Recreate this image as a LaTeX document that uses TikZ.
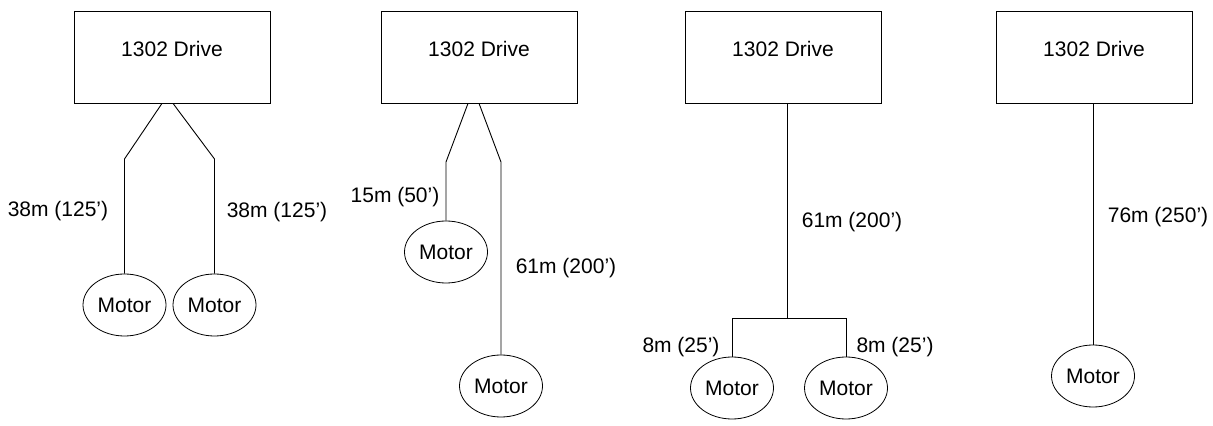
\documentclass[tikz,border=0pt]{standalone}
\usepackage{fontspec}
\setmainfont{Liberation Sans}
\usetikzlibrary{calc, shapes.geometric, positioning}

\tikzset{
    drivebox/.style={draw, rectangle, minimum width=98pt, minimum height=46pt,
        inner sep=0pt, text height=8pt, text depth=8.5pt},
    motor/.style={draw, ellipse, minimum width=41.5pt, minimum height=31pt, inner sep=0pt},
    lenlabel/.style={inner sep=0pt},
    cable/.style={line width=0.45pt}
}

\begin{document}
\begin{tikzpicture}[x=0.5pt, y=-0.5pt, font=\fontsize{10.5pt}{12pt}\selectfont]
    \useasboundingbox (0,0) rectangle (1213,426);

    % 1. Hai động cơ, mỗi nhánh 38m
    \node[drivebox] (d1) at (172,57) {1302 Drive};
    \node[motor] (m1a) at (124.5,305) {Motor};
    \node[motor] (m1b) at (214.5,305) {Motor};
    \coordinate (b1a) at (124.5,159);
    \coordinate (b1b) at (214.5,159);
    \draw[cable] ($(d1.south)+(-10,0)$) -- (b1a) -- (m1a.north);
    \draw[cable] ($(d1.south)+(1,0)$) -- (b1b) -- (m1b.north);
    \node[lenlabel] (l1a) at (58,211) {38m (125’)};
    \node[lenlabel] (l1b) at (277,212) {38m (125’)};

    % 2. Hai nhánh dài khác nhau
    \node[drivebox] (d2) at (479,57) {1302 Drive};
    \node[motor] (m2a) at (446,252) {Motor};
    \node[motor] (m2b) at (501,386) {Motor};
    \coordinate (b2a) at (446,162);
    \coordinate (b2b) at (501,162);
    \draw[cable] ($(d2.south)+(-11,0)$) -- (b2a) -- (m2a.north);
    \draw[cable] ($(d2.south)+(0,0)$) -- (b2b) -- (m2b.north);
    \node[lenlabel] (l2a) at (395,197) {15m (50’)};
    \node[lenlabel] (l2b) at (566,268) {61m (200’)};

    % 3. Một đường chính rồi rẽ nhánh
    \node[drivebox] (d3) at (783,57) {1302 Drive};
    \node[motor] (m3a) at (732,388) {Motor};
    \node[motor] (m3b) at (846,388) {Motor};
    \coordinate (j3) at (787,318);
    \draw[cable] ($(d3.south)+(4,0)$) -- (j3);
    \draw[cable] (m3a.north) -- (m3a.north |- j3) -- (m3b.north |- j3) -- (m3b.north);
    \node[lenlabel] (l3) at (852,222) {61m (200’)};
    \node[lenlabel] (l3a) at (681,347) {8m (25’)};
    \node[lenlabel] (l3b) at (895,347) {8m (25’)};

    % 4. Một động cơ, 76m
    \node[drivebox] (d4) at (1094,57) {1302 Drive};
    \node[motor] (m4) at (1093,376) {Motor};
    \draw[cable] (m4.north |- d4.south) -- (m4.north);
    \node[lenlabel] (l4) at (1158,217) {76m (250’)};
\end{tikzpicture}
\end{document}
